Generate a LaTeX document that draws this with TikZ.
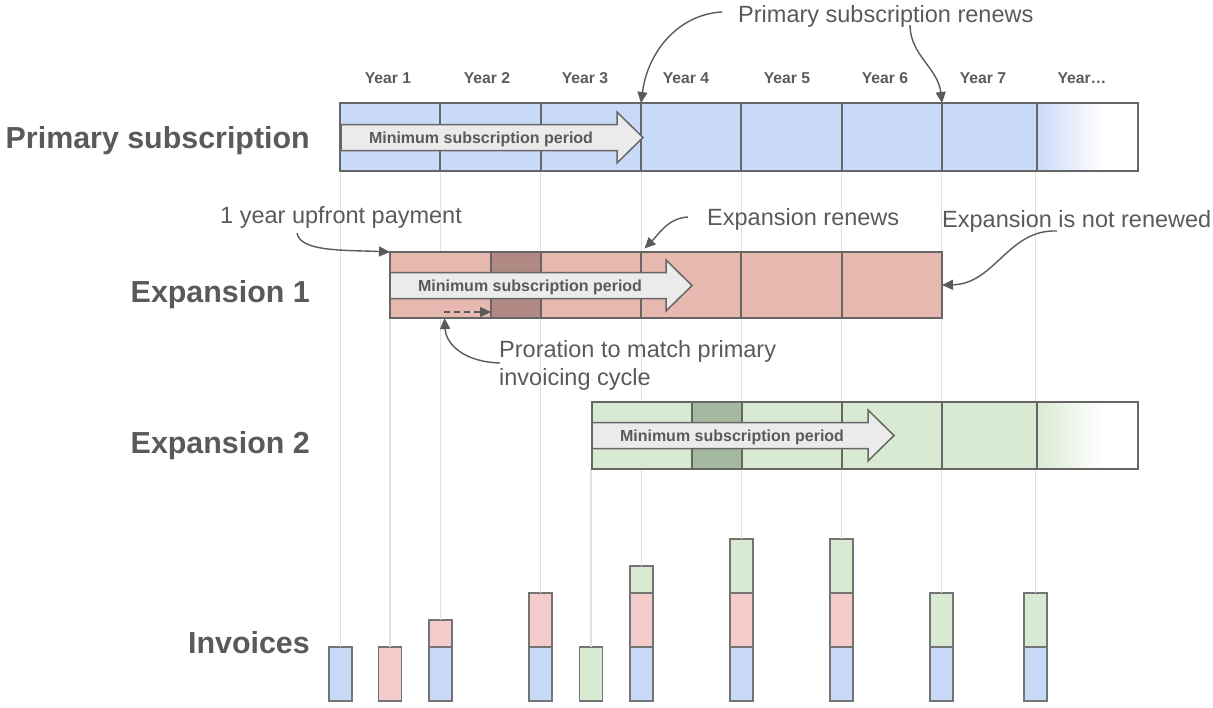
\documentclass[tikz,border=0pt]{standalone}
\usepackage{fontspec}
\setmainfont{Liberation Sans}
\usetikzlibrary{arrows.meta}
\definecolor{primblue}{HTML}{C9DAF8}
\definecolor{exparose}{HTML}{E6B8AF}
\definecolor{expadark}{HTML}{B08A82}
\definecolor{expbgreen}{HTML}{D9EAD3}
\definecolor{expbdark}{HTML}{A5B8A0}
\definecolor{invpink}{HTML}{F4CCCC}
\definecolor{arrowgray}{HTML}{EBEBEB}
\definecolor{cellline}{HTML}{666666}
\definecolor{invline}{HTML}{747474}
\definecolor{textgray}{HTML}{5A5A5A}
\definecolor{gridgray}{HTML}{E0E0E0}
\pgfdeclarehorizontalshading{fadeblue}{100bp}{color(0bp)=(primblue); color(25bp)=(primblue); color(57bp)=(white); color(100bp)=(white)}
\pgfdeclarehorizontalshading{fadegreen}{100bp}{color(0bp)=(expbgreen); color(25bp)=(expbgreen); color(57bp)=(white); color(100bp)=(white)}
% arrow for the minimum period: left x, centre y, name
\newcommand{\minperiod}[3]{%
  \draw[periodarrow] (#1,#2-13) -- (#1+276,#2-13) -- (#1+276,#2-25.5) -- (#1+302,#2)
     -- (#1+276,#2+25.5) -- (#1+276,#2+13) -- (#1,#2+13) -- cycle;
  \node (#3) at (#1+140,#2+5.5) [periodtext] {Minimum subscription period};
}

\begin{document}
\begin{tikzpicture}[x=1pt,y=-1pt,
   cell/.style={draw=cellline,line width=1.5pt,inner sep=0pt,outer sep=0pt},
   primcell/.style={cell,fill=primblue,minimum height=68},
   expacell/.style={cell,fill=exparose,minimum height=66},
   expbcell/.style={cell,fill=expbgreen,minimum height=67},
   invbox/.style={draw=invline,line width=1.8pt,inner sep=0pt,outer sep=0pt,
                  minimum width=23,minimum height=54,anchor=south},
   periodarrow/.style={draw=cellline,fill=arrowgray,line width=1.5pt},
   periodtext/.style={font=\bfseries\fontsize{16}{19}\selectfont,text=textgray,inner sep=0pt,anchor=base},
   biglabel/.style={font=\bfseries\fontsize{30.4}{36}\selectfont,text=textgray,inner sep=0pt,anchor=base east},
   yearlabel/.style={font=\bfseries\fontsize{15.7}{19}\selectfont,text=textgray,inner sep=0pt,anchor=base},
   annot/.style={font=\fontsize{23.5}{28}\selectfont,text=textgray,inner sep=0pt,anchor=base west},
   note/.style={draw=textgray,line width=1.4pt,-{Triangle[length=11pt,width=10pt]}},
   gridline/.style={draw=gridgray,line width=1.8pt}]
   \useasboundingbox (0,0) rectangle (1213,707);

   % invoices
   \node (i1a) at (340.5,701) [invbox,fill=primblue] {};
   \node (i2a) at (390,701) [invbox,fill=invpink] {};
   \node (i3a) at (440.5,701) [invbox,fill=primblue] {};
   \node (i3b) at (i3a.north) [invbox,fill=invpink,minimum height=27] {};
   \node (i4a) at (540.5,701) [invbox,fill=primblue] {};
   \node (i4b) at (i4a.north) [invbox,fill=invpink] {};
   \node (i5a) at (591,701) [invbox,fill=expbgreen] {};
   \node (i6a) at (641.5,701) [invbox,fill=primblue] {};
   \node (i6b) at (i6a.north) [invbox,fill=invpink] {};
   \node (i6c) at (i6b.north) [invbox,fill=expbgreen,minimum height=27] {};
   \node (i7a) at (741.5,701) [invbox,fill=primblue] {};
   \node (i7b) at (i7a.north) [invbox,fill=invpink] {};
   \node (i7c) at (i7b.north) [invbox,fill=expbgreen] {};
   \node (i8a) at (841.5,701) [invbox,fill=primblue] {};
   \node (i8b) at (i8a.north) [invbox,fill=invpink] {};
   \node (i8c) at (i8b.north) [invbox,fill=expbgreen] {};
   \node (i9a) at (941.5,701) [invbox,fill=primblue] {};
   \node (i9b) at (i9a.north) [invbox,fill=expbgreen] {};
   \node (i10a) at (1035.5,701) [invbox,fill=primblue] {};
   \node (i10b) at (i10a.north) [invbox,fill=expbgreen] {};

   % bars
   \coordinate (p0) at (340,171);
   \coordinate (a0) at (390,318);
   \coordinate (x0) at (592,469);
   \foreach \i/\b in {i1a/p0,i2a/a0,i3b/p0,i4b/p0,i5a/x0,i6c/p0,i7c/p0,i8c/p0,i9b/p0,i10b/p0}
      \draw[gridline] (\i.north |- \b) -- (\i.north);

   \foreach \n/\x/\w in {1/390/100,2/490.5/101,3/591/100,4/691/100,5/791.5/101,6/892/100,7/989.5/95}
      \node (p\n) at (\x,137) [primcell,minimum width=\w] {};
   \node (p8) at (1087.5,137) [cell,minimum height=68,minimum width=101,shade,shading=fadeblue] {};

   \foreach \n/\x/\w in {1/440.5/101,3/591/100,4/691/100,5/791.5/101,6/892/100}
      \node (a\n) at (\x,285) [expacell,minimum width=\w] {};
   \node (a2) at (516,285) [expacell,fill=expadark,minimum width=50] {};

   \foreach \n/\x/\w in {1/642/100,3/792/100,4/892/100,5/989.5/95}
      \node (x\n) at (\x,435.5) [expbcell,minimum width=\w] {};
   \node (x2) at (717,435.5) [expbcell,fill=expbdark,minimum width=50] {};
   \node (x6) at (1087.5,435.5) [cell,minimum height=67,minimum width=101,shade,shading=fadegreen] {};

   \minperiod{341}{137.5}{primper}
   \minperiod{390}{285.5}{expaper}
   \minperiod{592}{435.5}{expbper}

   % labels
   \foreach \x/\t [count=\n] in {388/Year 1,487/Year 2,585/Year 3,686/Year 4,787/Year 5,885/Year 6,983/Year 7,1082/Year…}
      \node (year\n) at (\x,83) [yearlabel] {\t};
   \node (primlbl) at (310,148) [biglabel] {Primary subscription};
   \node (expalbl) at (310,302) [biglabel] {Expansion 1};
   \node (expblbl) at (310,453) [biglabel] {Expansion 2};
   \node (invlbl) at (310,653) [biglabel] {Invoices};

   % notes
   \node (renewtxt) at (738,22) [annot] {Primary subscription renews};
   \node (upfronttxt) at (220,223) [annot] {1 year upfront payment};
   \node (exprenewtxt) at (707,225) [annot] {Expansion renews};
   \node (notrenewtxt) at (942,227) [annot] {Expansion is not renewed};
   \node (proratxt) at (499,340) [annot,anchor=north west,align=left]
      {Proration to match primary\\invoicing cycle};

   \coordinate (renewA) at (722,12);
   \coordinate (renewB) at (910,25);
   \coordinate (upfrontA) at (297,233);
   \coordinate (exprenewA) at (688,217);
   \coordinate (notrenewA) at (1057,231);
   \coordinate (proratA) at (500,363);
   \coordinate (proratB) at (444,312);
   \draw[note] (renewA) .. controls (680,14) and (648,50) .. (p4.north west);
   \draw[note] (renewB) .. controls (910,55) and (938,68) .. (p7.north west);
   \draw[note] (upfrontA) .. controls (300,252) and (345,250) .. (a1.north west);
   \draw[note,shorten >=5pt] (exprenewA) .. controls (668,218) and (658,235) .. (a4.north west);
   \draw[note] (notrenewA) .. controls (1008,229) and (995,284) .. (a6.east);
   \draw[note] (proratA) .. controls (465,362) and (446,345) .. ([xshift=4pt]a1.south);
   \draw[note,dash pattern=on 6pt off 4pt] (proratB) -- ([yshift=6pt]a2.south west);
\end{tikzpicture}
\end{document}
